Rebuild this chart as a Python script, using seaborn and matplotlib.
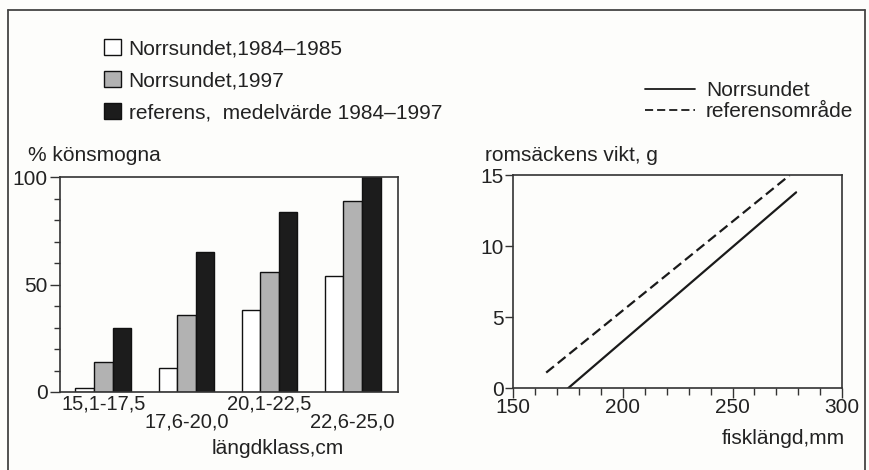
import numpy as np
import pandas as pd
import matplotlib
matplotlib.use("Agg")
from matplotlib import pyplot as plt
import seaborn as sns

# ---- data
klasser = ["15,1-17,5", "17,6-20,0", "20,1-22,5", "22,6-25,0"]
serier = ["Norrsundet,1984\u20131985", "Norrsundet,1997", "referens,  medelv\u00e4rde 1984\u20131997"]
norr_8485 = [2, 11, 38, 54]
norr_97 = [14, 36, 56, 89]
referens = [30, 65, 84, 100]

linje_namn = ["Norrsundet", "referensomr\u00e5de"]
norr_x = [175, 279]
norr_y = [0, 13.8]
ref_x = [165, 276]
ref_y = [1.1, 15]

farger = ["#ffffff", "#b2b2b2", "#1c1c1c"]

sns.set_theme(style="white")
plt.rcParams["font.family"] = ["Liberation Sans", "DejaVu Sans"]
plt.rcParams["text.color"] = "#222222"
plt.rcParams["axes.edgecolor"] = "#333333"
plt.rcParams["xtick.color"] = "#333333"
plt.rcParams["ytick.color"] = "#333333"
plt.rcParams["xtick.labelcolor"] = "#222222"
plt.rcParams["ytick.labelcolor"] = "#222222"

df = pd.DataFrame({
    "klass": klasser * 3,
    "serie": [serier[0]] * 4 + [serier[1]] * 4 + [serier[2]] * 4,
    "andel": norr_8485 + norr_97 + referens,
})

df_lin = pd.DataFrame({
    "x": norr_x + ref_x,
    "y": norr_y + ref_y,
    "omrade": [linje_namn[0]] * 2 + [linje_namn[1]] * 2,
})

fig = plt.figure(figsize=(8.7, 4.7), dpi=100)
fig.patch.set_facecolor("#fdfdfb")

# ram runt figuren (ingen nederkant)
fig.add_artist(plt.Line2D([0.0095, 0.0095], [0, 0.979], color="#444444", lw=1.3))
fig.add_artist(plt.Line2D([0.0095, 0.994], [0.979, 0.979], color="#444444", lw=1.3))
fig.add_artist(plt.Line2D([0.994, 0.994], [0, 0.979], color="#444444", lw=1.3))

# ---- vänster: stapeldiagram
ax1 = fig.add_axes([0.069, 0.166, 0.388, 0.457])
sns.barplot(data=df, x="klass", y="andel", hue="serie", palette=farger,
            width=0.67, edgecolor="#111111", linewidth=1.0, saturation=1,
            ax=ax1, legend=True)
ax1.set_facecolor("#fdfdfb")
ax1.set_ylim(0, 100)
ax1.set_xlim(-0.52, 3.54)
ax1.set_yticks([0, 50, 100])
ax1.set_yticks(np.arange(10, 100, 10), minor=True)
ax1.tick_params(axis="y", which="major", direction="out", length=7, width=1, left=True, labelsize=15, pad=2)
ax1.tick_params(axis="y", which="minor", direction="out", length=4, width=1, left=True)
ax1.tick_params(axis="x", length=0, labelsize=14.5)
for i, t in enumerate(ax1.xaxis.get_major_ticks()):
    t.set_pad(2 if i % 2 == 0 else 15)
ax1.set_xlabel("")
ax1.set_ylabel("")
for s in ax1.spines.values():
    s.set_linewidth(1.2)

handles, labels = ax1.get_legend_handles_labels()
ax1.get_legend().remove()
fig.legend(handles, labels, loc="upper left", bbox_to_anchor=(0.107, 0.94),
           frameon=False, fontsize=15, handlelength=0.85, handleheight=0.85,
           handletextpad=0.35, labelspacing=0.6, borderpad=0)

fig.text(0.032, 0.648, "% k\u00f6nsmogna", fontsize=15, ha="left", va="bottom")
fig.text(0.319, 0.045, "l\u00e4ngdklass,cm", fontsize=15, ha="center", va="center")

# ---- höger: linjediagram
ax2 = fig.add_axes([0.590, 0.174, 0.378, 0.453])
sns.lineplot(data=df_lin, x="x", y="y", style="omrade", color="#1a1a1a",
             linewidth=1.6, dashes={linje_namn[0]: "", linje_namn[1]: (4.5, 2.2)},
             ax=ax2, legend=True)
ax2.set_facecolor("#fdfdfb")
ax2.set_xlim(150, 300)
ax2.set_ylim(0, 15)
ax2.set_xticks([150, 200, 250, 300])
ax2.set_xticks(np.arange(160, 300, 10), minor=True)
ax2.set_yticks([0, 5, 10, 15])
ax2.tick_params(axis="x", which="major", direction="out", length=7, width=1, bottom=True, labelsize=15, pad=0)
ax2.tick_params(axis="x", which="minor", direction="out", length=5, width=1, bottom=True)
ax2.tick_params(axis="y", which="major", direction="out", length=6, width=1, left=True, labelsize=15, pad=1)
ax2.set_xlabel("")
ax2.set_ylabel("")
for s in ax2.spines.values():
    s.set_linewidth(1.2)

h2, l2 = ax2.get_legend_handles_labels()
for h in h2:
    h.set_linewidth(1.3)
ax2.get_legend().remove()
fig.legend(h2, l2, loc="upper left", bbox_to_anchor=(0.729, 0.85),
           frameon=False, fontsize=15, handlelength=2.4,
           handletextpad=0.55, labelspacing=0.1, borderpad=0)

fig.text(0.557, 0.648, "roms\u00e4ckens vikt, g", fontsize=15, ha="left", va="bottom")
fig.text(0.9, 0.068, "fiskl\u00e4ngd,mm", fontsize=15, ha="center", va="center")

plt.savefig("out.png", dpi=100, facecolor=fig.get_facecolor())
